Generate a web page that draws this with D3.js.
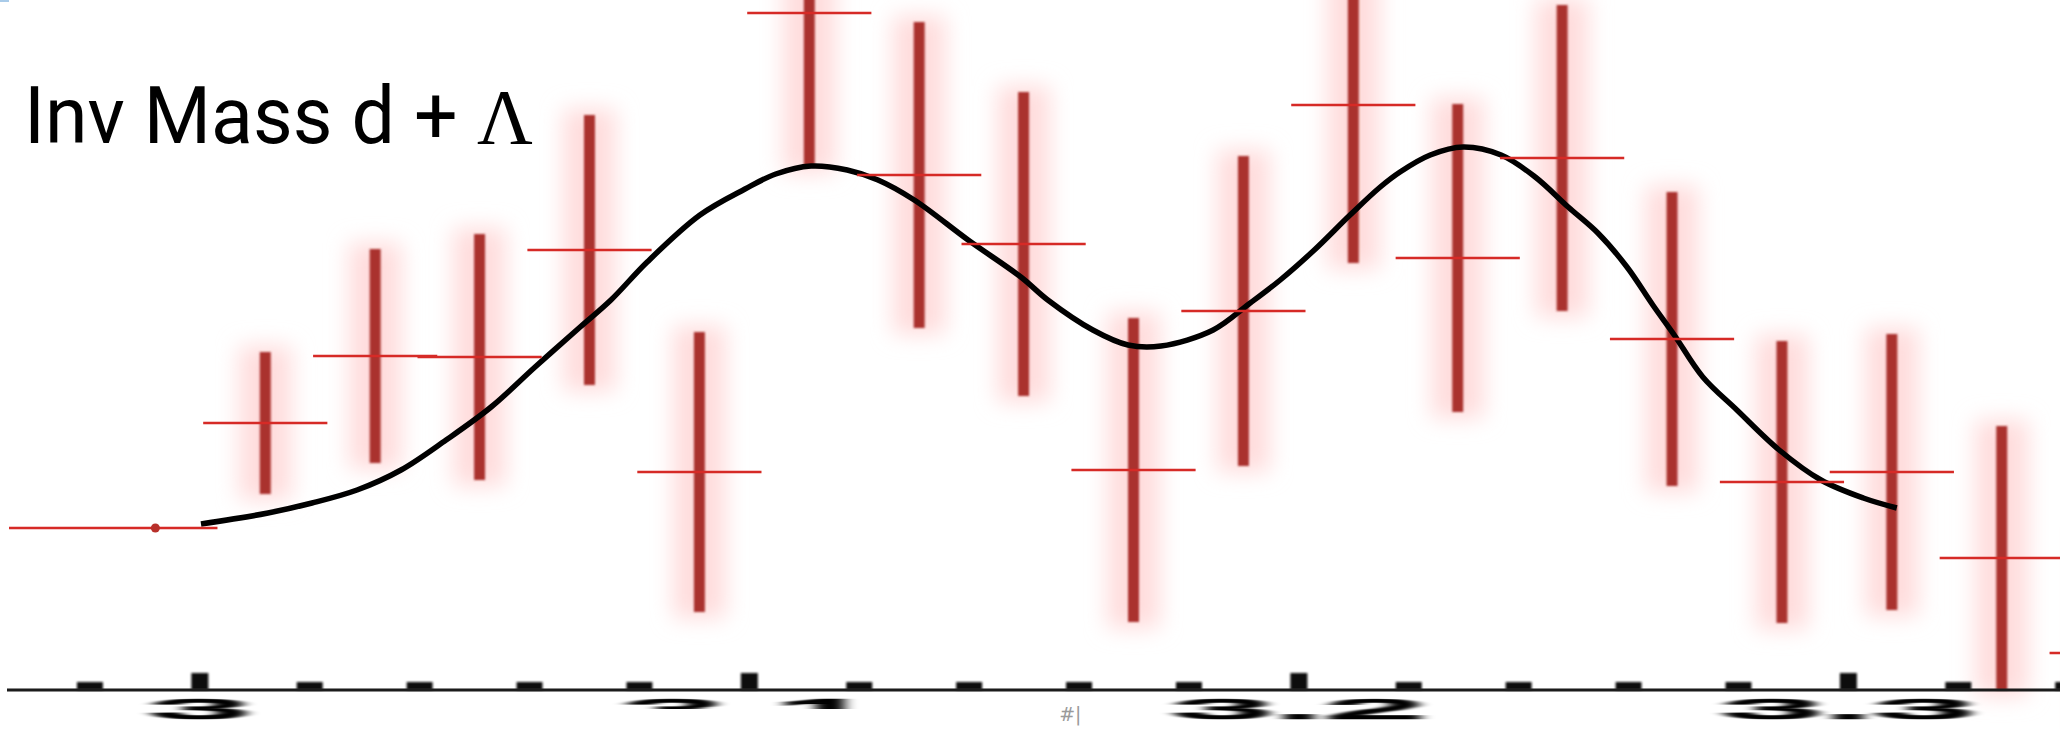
<!DOCTYPE html>
<html>
<head>
<meta charset="utf-8">
<script src="https://cdn.jsdelivr.net/npm/d3@7/dist/d3.min.js"></script>
<style>
  html, body { margin: 0; padding: 0; background: #ffffff; }
  svg { display: block; }
</style>
</head>
<body>
<svg id="chart" width="2060" height="729"></svg>
<script>
// Invariant mass of d + Lambda (GeV/c^2): bin centres, contents and errors
const binCenters = [2.992, 3.012, 3.032, 3.051, 3.071, 3.091, 3.111, 3.131, 3.150, 3.170,
                    3.190, 3.210, 3.229, 3.248, 3.268, 3.288, 3.308, 3.328, 3.348];
const binValues  = [16.2, 26.7, 33.4, 33.3, 44.0, 21.8, 67.7, 51.5, 44.6, 22.0,
                    37.9, 58.5, 43.2, 53.2, 35.1, 20.8, 21.8, 13.2, 3.7];
const binErrors  = [0.0, 7.1, 10.7, 12.3, 13.5, 14.0, 15.4, 15.3, 15.2, 15.2,
                    15.5, 15.8, 15.4, 15.3, 14.7, 14.1, 13.8, 13.2, 12.0];

// Fitted function (double peak on a smooth background), sampled along the mass axis
const fitMass  = [3.0003, 3.0125, 3.0205, 3.0287, 3.0367, 3.0449, 3.0531, 3.0611, 3.0693, 3.0749,
                  3.0815, 3.0911, 3.0993, 3.1049, 3.1113, 3.1179, 3.1235, 3.1301, 3.1399, 3.1495,
                  3.1544, 3.1626, 3.1690, 3.1750, 3.1845, 3.1910, 3.1967, 3.2029, 3.2094, 3.2149,
                  3.2185, 3.2240, 3.2300, 3.2369, 3.2431, 3.2491, 3.2545, 3.2598, 3.2645, 3.2684,
                  3.2736, 3.2798, 3.2875, 3.2951, 3.3028, 3.3089];
const fitValue = [16.6, 17.7, 18.7, 20.0, 22.0, 25.0, 28.3, 32.3, 36.3, 39.0,
                  42.8, 47.5, 50.1, 51.6, 52.4, 52.0, 51.0, 49.0, 45.0, 41.3,
                  39.0, 36.0, 34.5, 34.4, 36.0, 38.6, 41.0, 44.0, 47.5, 50.3,
                  51.8, 53.5, 54.3, 53.5, 51.3, 48.3, 45.7, 42.3, 38.5, 35.5,
                  31.3, 28.0, 24.0, 21.0, 19.2, 18.2];

// Axis ticks
const majorTicks = [3.0, 3.1, 3.2, 3.3];
const tickLabels = ["3", "3.1", "3.2", "3.3"];
const minorTicks = [2.98, 3.02, 3.04, 3.06, 3.08, 3.12, 3.14, 3.16, 3.18,
                    3.22, 3.24, 3.26, 3.28, 3.32, 3.34];

const W = 2060, H = 729;
const svg = d3.select("#chart");

const x = d3.scaleLinear().domain([2.965, 3.3386]).range([7, 2060]);
const y = d3.scaleLinear().domain([0, 69]).range([690, 0]);
const binHalf = 0.0113;

// soft-edge filters
const defs = svg.append("defs");
function blurFilter(id, sd) {
  defs.append("filter").attr("id", id)
    .attr("filterUnits", "userSpaceOnUse")
    .attr("x", -50).attr("y", -50).attr("width", W + 100).attr("height", H + 100)
    .append("feGaussianBlur").attr("stdDeviation", sd);
}
blurFilter("halo", 11);
blurFilter("soft", 1.1);
blurFilter("softer", 0.6);
blurFilter("label", "1.0 0.6");

// the 3.1 label is only visible along its top edge
defs.append("clipPath").attr("id", "topOnly")
  .append("rect").attr("x", -400).attr("y", -40).attr("width", 800).attr("height", 59);

svg.append("rect").attr("width", W).attr("height", H).attr("fill", "#ffffff");

const bins = binCenters.map((c, i) => ({ i, c, v: binValues[i], e: binErrors[i] }));
const withErr = bins.filter(d => d.e > 0);

// pink glow around the vertical error bars
svg.append("g").attr("filter", "url(#halo)")
  .selectAll("rect").data(withErr).join("rect")
  .attr("x", d => x(d.c) - 26)
  .attr("width", 52)
  .attr("y", d => y(d.v + d.e) - 6)
  .attr("height", d => y(d.v - d.e) - y(d.v + d.e) + 12)
  .attr("fill", "#ffdcdc");

// vertical error bars
svg.append("g").attr("filter", "url(#soft)")
  .selectAll("rect").data(withErr).join("rect")
  .attr("x", d => x(d.c) - 5.5)
  .attr("width", 11)
  .attr("y", d => y(d.v + d.e))
  .attr("height", d => Math.min(y(d.v - d.e), 690) - y(d.v + d.e))
  .attr("fill", "#aa332f");

// fitted function
const fitLine = d3.line()
  .x((d, i) => x(fitMass[i]))
  .y((d, i) => y(fitValue[i]))
  .curve(d3.curveCatmullRom.alpha(0.5));
svg.append("path")
  .datum(fitMass)
  .attr("d", fitLine)
  .attr("fill", "none")
  .attr("stroke", "#000000")
  .attr("stroke-width", 5.5)
  .attr("stroke-linejoin", "round")
  .attr("filter", "url(#softer)");

// horizontal bin-width bars; the first one runs from the frame edge
svg.append("g").attr("filter", "url(#softer)")
  .selectAll("line").data(bins).join("line")
  .attr("x1", d => d.i === 0 ? x.range()[0] + 2 : x(d.c - binHalf))
  .attr("x2", d => x(d.c + binHalf))
  .attr("y1", d => y(d.v))
  .attr("y2", d => y(d.v))
  .attr("stroke", "#d62a26")
  .attr("stroke-width", 2.4);

// marker for bins without vertical error
svg.append("g")
  .selectAll("circle").data(bins.filter(d => d.e === 0)).join("circle")
  .attr("cx", d => x(d.c))
  .attr("cy", d => y(d.v))
  .attr("r", 4.5)
  .attr("fill", "#b8302a");

// x axis
const axisG = svg.append("g").attr("transform", "translate(0,690)");

axisG.append("g").attr("filter", "url(#soft)")
  .call(d3.axisBottom(x).tickValues(minorTicks).tickSize(-8).tickFormat(""))
  .call(g => g.select(".domain").remove())
  .call(g => g.selectAll(".tick line").attr("stroke", "#111").attr("stroke-width", 26));

const majorG = axisG.append("g")
  .call(d3.axisBottom(x).tickValues(majorTicks).tickSize(-17).tickPadding(0)
        .tickFormat((d, i) => tickLabels[i]))
  .call(g => g.select(".domain").remove());
majorG.selectAll(".tick line")
  .attr("stroke", "#111").attr("stroke-width", 17).attr("filter", "url(#soft)");
majorG.selectAll(".tick")
  .attr("clip-path", (d, i) => tickLabels[i] === "3.1" ? "url(#topOnly)" : null);
majorG.selectAll(".tick text")
  .attr("y", 29).attr("dy", 0)
  .attr("transform", "scale(6.3,1)")
  .attr("fill", "#000")
  .attr("stroke", "#000")
  .attr("stroke-width", 0.6)
  .attr("filter", "url(#label)")
  .style("font-family", "'Liberation Sans', Arial, sans-serif")
  .style("font-weight", "bold")
  .style("font-size", "29px");

axisG.append("line")
  .attr("x1", x.range()[0]).attr("x2", x.range()[1])
  .attr("y1", 0).attr("y2", 0)
  .attr("stroke", "#1a1a1a").attr("stroke-width", 3)
  .attr("filter", "url(#softer)");

// faint glyph under the axis
svg.append("text")
  .attr("x", x(3.1585)).attr("y", 721)
  .attr("text-anchor", "middle")
  .attr("fill", "#9a9a9a")
  .style("font-family", "'DejaVu Sans', sans-serif")
  .style("font-size", "19px")
  .text("#|");

// title
const title = svg.append("text")
  .attr("transform", "translate(24,143) scale(0.975,1)")
  .attr("fill", "#000")
  .style("font-family", "Roboto, 'Liberation Sans', sans-serif")
  .style("font-size", "79px");
title.append("tspan").text("Inv Mass d + ");
title.append("tspan").style("font-family", "'Liberation Serif', 'DejaVu Serif', serif").text("Λ");

// small highlight in the corner
svg.append("rect").attr("x", 0).attr("y", 0).attr("width", 9).attr("height", 2).attr("fill", "#a9cbe9");
</script>
</body>
</html>
